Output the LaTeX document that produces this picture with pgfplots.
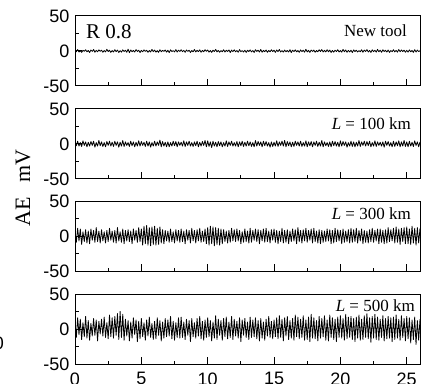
\documentclass[border=0pt]{standalone}
\usepackage{fontspec}
\setmainfont{Liberation Serif}
\newfontfamily\tickfont{Liberation Sans}
\usepackage{pgfplots}
\usepackage{pgfplotstable}
\pgfplotsset{compat=1.18}

\pgfplotstableread[header=false,row sep=\\]{
1.5\\ -1\\ 2\\ -1.5\\ 0.5\\ -2\\ 1\\ -0.5\\ 1.8\\ -1.2\\
0.8\\ -2.2\\ 1.4\\ -0.6\\ 2.1\\ -1.7\\ 0.9\\ -1.1\\ 1.6\\ -0.4\\
1.2\\ -1.9\\ 0.7\\ -1.3\\ 2.4\\ -0.8\\ 1.1\\ -2\\ 0.6\\ -1.4\\
1.9\\ -0.9\\ 1.3\\ -2.1\\ 0.5\\ -1.6\\ 1.7\\ -0.7\\ 1\\ -1.8\\
2.6\\ -2.4\\ 1.5\\ -1\\ 0.8\\ -1.5\\ 2\\ -0.6\\ 1.2\\ -2.2\\
0.9\\ -1.2\\ 1.6\\ -0.5\\ 1.1\\ -1.9\\ 0.7\\ -1.4\\ 2.2\\ -0.9\\
1.3\\ -1.7\\ 0.6\\ -2\\ 1.8\\ -1.1\\ 0.9\\ -0.6\\ 1.5\\ -1.6\\
1\\ -2.3\\ 1.7\\ -0.8\\ 0.6\\ -1.3\\ 2\\ -1.5\\ 1.2\\ -0.7\\
1.8\\ -1\\ 0.9\\ -1.9\\ 1.4\\ -0.6\\ 1.1\\ -2.1\\ 0.7\\ -1.2\\
2.1\\ -1.4\\ 1\\ -0.9\\ 1.6\\ -1.8\\ 0.8\\ -1.1\\ 1.9\\ -0.5\\
1.4\\ -1.6\\ 0.7\\ -2\\ 1.2\\ -0.8\\ 2.3\\ -1.3\\ 0.9\\ -1.7\\
0.6\\ -1.1\\ 1.8\\ -1.5\\ 1\\ -0.7\\ 1.5\\ -2.2\\ 1.3\\ -0.9\\
1.7\\ -1.2\\ 0.8\\ -1.8\\ 2\\ -1\\ 0.6\\ -1.4\\ 1.1\\ -2\\
1\\ -0.8\\ 1.6\\ -1.3\\ 0.7\\ -2.1\\ 1.9\\ -0.6\\ 1.2\\ -1.5\\
2.2\\ -1.7\\ 0.9\\ -1\\ 1.4\\ -1.9\\ 0.8\\ -1.2\\ 1.7\\ -0.7\\
1.1\\ -2\\ 1.5\\ -0.9\\ 2.1\\ -1.4\\ 0.6\\ -1.6\\ 1.3\\ -1.1\\
0.8\\ -1.5\\ 1.9\\ -2.3\\ 1.2\\ -0.8\\ 1.6\\ -1.2\\ 0.7\\ -1.9\\
1.6\\ -0.9\\ 1.1\\ -1.7\\ 2.4\\ -1.3\\ 0.9\\ -2\\ 1.4\\ -0.6\\
1.3\\ -1.8\\ 0.7\\ -1.1\\ 1.7\\ -0.7\\ 2\\ -1.5\\ 1\\ -1.3\\
1.9\\ -1.2\\ 1.4\\ -2.1\\ 0.8\\ -1.6\\ 1.2\\ -0.9\\ 1.8\\ -1.4\\
0.7\\ -1.7\\ 2.2\\ -1\\ 1.5\\ -1.9\\ 0.9\\ -1.3\\ 1.1\\ -2.2\\
1.6\\ -0.8\\ 1.2\\ -1.5\\ 0.6\\ -1.1\\ 1.9\\ -1.8\\ 1.3\\ -0.7\\
2\\ -1.4\\ 0.8\\ -2\\ 1.6\\ -0.9\\ 1.1\\ -1.6\\ 2.3\\ -1.2\\
1.2\\ -1.9\\ 1.7\\ -0.7\\ 1\\ -1.5\\ 1.4\\ -2.1\\ 0.7\\ -1.1\\
1.8\\ -1.3\\ 0.9\\ -1.7\\ 2.1\\ -1\\ 1.5\\ -0.8\\ 1.2\\ -1.8\\
1\\ -1.6\\ 1.6\\ -1.2\\ 0.8\\ -2\\ 1.9\\ -1.4\\ 1.3\\ -0.9\\
0.5\\
}\dataA

\pgfplotstableread[header=false,row sep=\\]{
3\\ -2.5\\ 4\\ -3\\ 2\\ -3.5\\ 4.5\\ -2\\ 3\\ -4\\
2.5\\ -3\\ 3.5\\ -2\\ 4\\ -4.5\\ 2\\ -3\\ 5\\ -2.5\\
3\\ -3.5\\ 2\\ -4\\ 3.5\\ -2\\ 4\\ -3\\ 2.5\\ -3.5\\
4\\ -2\\ 3\\ -4.5\\ 2.5\\ -3\\ 5\\ -3.5\\ 3\\ -2\\
2\\ -3.5\\ 4\\ -2.5\\ 3\\ -4\\ 2.5\\ -3\\ 4.5\\ -3\\
3.5\\ -2\\ 2.5\\ -3.5\\ 4\\ -3\\ 3\\ -4.5\\ 2\\ -3\\
4\\ -3\\ 3\\ -2\\ 5.5\\ -4\\ 3.5\\ -3\\ 2.5\\ -4\\
3\\ -4\\ 2\\ -3\\ 4\\ -2.5\\ 3.5\\ -4\\ 3\\ -2\\
2.5\\ -3\\ 4.5\\ -3.5\\ 3\\ -2\\ 4\\ -3\\ 2\\ -3.5\\
3\\ -2.5\\ 4\\ -4\\ 2.5\\ -3\\ 3.5\\ -2\\ 5\\ -4\\
4.5\\ -3.5\\ 3\\ -5\\ 4\\ -3\\ 2.5\\ -4\\ 3.5\\ -2.5\\
3\\ -4\\ 2\\ -3\\ 4.5\\ -3.5\\ 3\\ -2\\ 4\\ -3\\
2\\ -3\\ 3.5\\ -4\\ 3\\ -2.5\\ 4\\ -3.5\\ 2.5\\ -3\\
4\\ -2.5\\ 3\\ -3.5\\ 2\\ -4\\ 5\\ -3\\ 3.5\\ -2\\
3\\ -4\\ 4\\ -2.5\\ 3.5\\ -3\\ 2\\ -4.5\\ 3\\ -3.5\\
2.5\\ -3\\ 4.5\\ -3.5\\ 3\\ -2\\ 4\\ -3\\ 5\\ -4\\
3.5\\ -2.5\\ 3\\ -4\\ 2.5\\ -3.5\\ 4\\ -2\\ 3\\ -3\\
4\\ -3.5\\ 2\\ -3\\ 4.5\\ -4\\ 3\\ -2.5\\ 3.5\\ -4\\
3\\ -2\\ 4\\ -3.5\\ 2.5\\ -3\\ 5\\ -4\\ 3\\ -2.5\\
2\\ -3.5\\ 3\\ -4\\ 4\\ -2.5\\ 3.5\\ -3\\ 2.5\\ -4\\
4.5\\ -3\\ 3.5\\ -2\\ 3\\ -4.5\\ 2\\ -3\\ 4\\ -3.5\\
3\\ -4\\ 2.5\\ -3\\ 5\\ -3.5\\ 3\\ -2\\ 4\\ -3\\
3.5\\ -2.5\\ 4\\ -4\\ 2\\ -3\\ 4.5\\ -3.5\\ 3\\ -2\\
2.5\\ -3\\ 3\\ -4.5\\ 4\\ -2\\ 3.5\\ -3\\ 2\\ -4\\
4\\ -3.5\\ 3\\ -2.5\\ 4.5\\ -4\\ 3\\ -3\\ 5\\ -3.5\\
3\\ -4\\ 4\\ -3\\ 2.5\\ -3.5\\ 4.5\\ -2\\ 3\\ -4\\
3\\
}\dataB

\pgfplotstableread[header=false,row sep=\\]{
8\\ -9\\ 11\\ -7\\ 10\\ -12\\ 6\\ -8\\ 9\\ -10\\
7\\ -11\\ 10\\ -6\\ 8\\ -9\\ 12\\ -8\\ 7\\ -10\\
9\\ -7\\ 6\\ -10\\ 8\\ -8\\ 11\\ -6\\ 7\\ -9\\
8\\ -10\\ 12\\ -7\\ 6\\ -9\\ 10\\ -11\\ 8\\ -7\\
9\\ -8\\ 7\\ -11\\ 10\\ -6\\ 8\\ -9\\ 12\\ -8\\
10\\ -13\\ 14\\ -11\\ 15\\ -13\\ 12\\ -14\\ 13\\ -12\\
14\\ -13\\ 11\\ -12\\ 13\\ -10\\ 9\\ -11\\ 8\\ -7\\
7\\ -9\\ 10\\ -8\\ 6\\ -10\\ 9\\ -7\\ 8\\ -9\\
10\\ -8\\ 7\\ -11\\ 9\\ -6\\ 8\\ -10\\ 11\\ -7\\
8\\ -10\\ 9\\ -7\\ 11\\ -9\\ 7\\ -8\\ 10\\ -11\\
12\\ -13\\ 14\\ -11\\ 13\\ -14\\ 12\\ -12\\ 11\\ -13\\
10\\ -11\\ 9\\ -8\\ 7\\ -10\\ 8\\ -9\\ 11\\ -7\\
9\\ -8\\ 10\\ -7\\ 8\\ -11\\ 6\\ -9\\ 10\\ -8\\
7\\ -10\\ 11\\ -9\\ 8\\ -6\\ 10\\ -8\\ 9\\ -11\\
8\\ -7\\ 10\\ -9\\ 11\\ -8\\ 7\\ -10\\ 9\\ -6\\
10\\ -9\\ 8\\ -11\\ 7\\ -8\\ 11\\ -10\\ 8\\ -9\\
9\\ -11\\ 7\\ -8\\ 10\\ -7\\ 9\\ -11\\ 12\\ -8\\
8\\ -10\\ 9\\ -7\\ 11\\ -9\\ 8\\ -6\\ 10\\ -10\\
11\\ -8\\ 7\\ -10\\ 9\\ -11\\ 8\\ -9\\ 7\\ -8\\
10\\ -7\\ 9\\ -11\\ 8\\ -10\\ 11\\ -8\\ 9\\ -7\\
8\\ -11\\ 10\\ -9\\ 7\\ -8\\ 9\\ -10\\ 11\\ -9\\
9\\ -8\\ 11\\ -10\\ 8\\ -7\\ 10\\ -11\\ 8\\ -9\\
7\\ -10\\ 9\\ -8\\ 11\\ -9\\ 8\\ -7\\ 10\\ -11\\
10\\ -9\\ 8\\ -11\\ 9\\ -10\\ 12\\ -8\\ 9\\ -7\\
11\\ -10\\ 13\\ -9\\ 10\\ -12\\ 11\\ -8\\ 12\\ -11\\
13\\ -11\\ 10\\ -12\\ 14\\ -10\\ 11\\ -13\\ 12\\ -10\\
11\\
}\dataC

\pgfplotstableread[header=false,row sep=\\]{
10\\ -12\\ 16\\ -8\\ 14\\ -15\\ 9\\ -11\\ 18\\ -13\\
12\\ -16\\ 8\\ -10\\ 15\\ -9\\ 13\\ -17\\ 11\\ -7\\
14\\ -10\\ 17\\ -12\\ 9\\ -14\\ 20\\ -11\\ 16\\ -13\\
18\\ -9\\ 22\\ -15\\ 25\\ -12\\ 21\\ -16\\ 14\\ -10\\
12\\ -17\\ 10\\ -13\\ 16\\ -8\\ 13\\ -18\\ 11\\ -14\\
15\\ -11\\ 9\\ -16\\ 13\\ -10\\ 17\\ -12\\ 8\\ -15\\
11\\ -14\\ 16\\ -9\\ 12\\ -17\\ 10\\ -13\\ 15\\ -11\\
13\\ -10\\ 18\\ -14\\ 11\\ -16\\ 9\\ -12\\ 16\\ -13\\
17\\ -12\\ 10\\ -15\\ 14\\ -9\\ 12\\ -18\\ 15\\ -11\\
9\\ -13\\ 15\\ -10\\ 18\\ -14\\ 11\\ -16\\ 13\\ -12\\
16\\ -11\\ 12\\ -17\\ 10\\ -13\\ 19\\ -15\\ 14\\ -9\\
12\\ -16\\ 15\\ -11\\ 17\\ -14\\ 10\\ -12\\ 18\\ -15\\
14\\ -10\\ 11\\ -13\\ 16\\ -18\\ 13\\ -9\\ 15\\ -12\\
10\\ -15\\ 17\\ -12\\ 13\\ -11\\ 16\\ -14\\ 12\\ -17\\
15\\ -13\\ 10\\ -16\\ 14\\ -10\\ 18\\ -12\\ 11\\ -14\\
13\\ -11\\ 16\\ -14\\ 19\\ -12\\ 14\\ -17\\ 16\\ -10\\
18\\ -15\\ 12\\ -13\\ 15\\ -16\\ 20\\ -11\\ 17\\ -14\\
14\\ -12\\ 19\\ -16\\ 13\\ -15\\ 17\\ -18\\ 21\\ -13\\
16\\ -14\\ 12\\ -17\\ 18\\ -13\\ 15\\ -11\\ 19\\ -16\\
13\\ -17\\ 20\\ -12\\ 16\\ -15\\ 14\\ -18\\ 17\\ -12\\
19\\ -13\\ 15\\ -16\\ 21\\ -14\\ 17\\ -12\\ 18\\ -15\\
15\\ -18\\ 17\\ -13\\ 20\\ -16\\ 14\\ -15\\ 19\\ -12\\
22\\ -14\\ 16\\ -19\\ 18\\ -13\\ 21\\ -15\\ 17\\ -16\\
14\\ -12\\ 19\\ -17\\ 15\\ -14\\ 18\\ -13\\ 16\\ -18\\
17\\ -15\\ 20\\ -13\\ 14\\ -16\\ 19\\ -12\\ 15\\ -17\\
18\\ -14\\ 16\\ -20\\ 13\\ -15\\ 17\\ -22\\ 12\\ -16\\
14\\
}\dataD

\pgfplotsset{
  panel/.style={
    scale only axis, width=345pt, height=70pt,
    anchor=south west,
    xmin=0, xmax=26, ymin=-50, ymax=50,
    xtick={0,5,10,15,20,25},
    minor xtick={2.5,7.5,12.5,17.5,22.5},
    ytick={-50,0,50}, yticklabels={-50,0,50},
    minor ytick={-25,25},
    tick align=inside, xtick pos=bottom, ytick pos=left,
    major tick length=7pt, minor tick length=3.5pt,
    axis line style={line width=1pt},
    major tick style={line width=1pt, black},
    minor tick style={line width=1pt, black},
    tick label style={font=\tickfont\fontsize{18}{18}\selectfont},
    yticklabel style={xshift=-2pt},
    xticklabel style={yshift=-5pt},
    clip=true,
  },
  sig/.style={black, line width=0.8pt, line join=round, no marks},
}

\begin{document}
\begin{tikzpicture}
\begin{axis}[panel, at={(75pt,297pt)}, xticklabels={}]
\addplot[sig] table[x expr=\coordindex*0.1, y index=0] {\dataA};
\end{axis}
\begin{axis}[panel, at={(75pt,204pt)}, xticklabels={}]
\addplot[sig] table[x expr=\coordindex*0.1, y index=0] {\dataB};
\end{axis}
\begin{axis}[panel, at={(75pt,112pt)}, xticklabels={}]
\addplot[sig] table[x expr=\coordindex*0.1, y index=0] {\dataC};
\end{axis}
\begin{axis}[panel, at={(75pt,19pt)}, xticklabels={0,5,10,15,20,25}]
\addplot[sig] table[x expr=\coordindex*0.1, y index=0] {\dataD};
\end{axis}

\node[anchor=base west, inner sep=0pt, font=\fontsize{21}{21}\selectfont] at (86pt,344pt) {R 0.8};
\node[anchor=base east, inner sep=0pt, font=\fontsize{17}{17}\selectfont] at (407pt,346pt) {New tool};
\node[anchor=base east, inner sep=0pt, font=\fontsize{17}{17}\selectfont] at (411pt,253pt) {\textit{L} = 100 km};
\node[anchor=base east, inner sep=0pt, font=\fontsize{17}{17}\selectfont] at (411pt,164pt) {\textit{L} = 300 km};
\node[anchor=base east, inner sep=0pt, font=\fontsize{17}{17}\selectfont] at (415pt,72pt) {\textit{L} = 500 km};

\node[rotate=90, inner sep=0pt, font=\fontsize{22}{22}\selectfont] at (23pt,195pt) {AE\hspace{0.7em}mV};
\node[anchor=east, inner sep=0pt, font=\tickfont\fontsize{18}{18}\selectfont] at (4pt,39.5pt) {0};

\pgfresetboundingbox
\path[use as bounding box] (0,0) rectangle (427pt,383pt);
\end{tikzpicture}
\end{document}
